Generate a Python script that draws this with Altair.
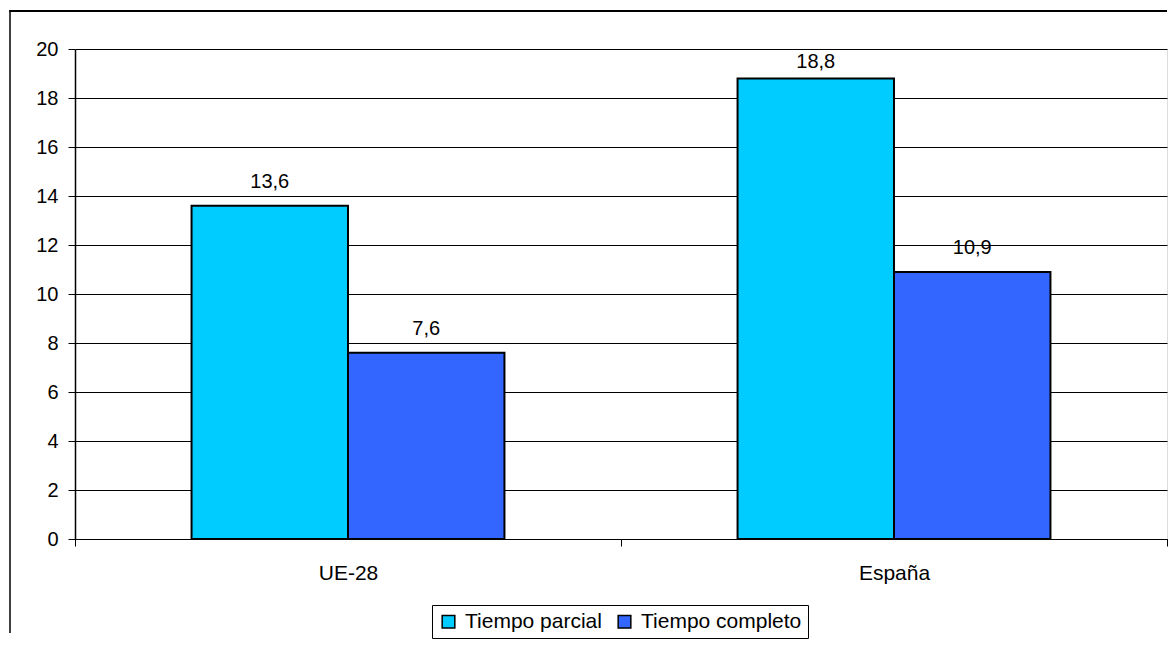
import altair as alt
import pandas as pd

categories = ["UE-28", "España"]
series = ["Tiempo parcial", "Tiempo completo"]
tiempo_parcial = [13.6, 18.8]
tiempo_completo = [7.6, 10.9]
colors = ["#00CCFF", "#3366FF"]
y_ticks = [0, 2, 4, 6, 8, 10, 12, 14, 16, 18, 20]

rows = []
for i, c in enumerate(categories):
    rows.append({"cat": c, "serie": series[0], "value": tiempo_parcial[i]})
    rows.append({"cat": c, "serie": series[1], "value": tiempo_completo[i]})
df = pd.DataFrame(rows)

W, H = 1092, 490
FONT = "Liberation Sans"

x_enc = alt.X("cat:N", sort=categories,
              scale=alt.Scale(paddingInner=0, paddingOuter=0),
              axis=alt.Axis(title=None, labelAngle=0, tickBand="extent", tickSize=7,
                            tickColor="black", domainColor="black", labelPadding=16,
                            labelFontSize=21, labelColor="black", grid=False,
                            labelFont=FONT))
xoff = alt.XOffset("serie:N", sort=series,
                   scale=alt.Scale(paddingOuter=0.745, paddingInner=0))
y_enc = alt.Y("value:Q",
              scale=alt.Scale(domain=[0, 20], nice=False),
              axis=alt.Axis(title=None, values=y_ticks, tickSize=7, tickColor="black",
                            domainColor="black", domainWidth=1.5, labelPadding=10,
                            labelFontSize=20, labelColor="black", gridColor="black",
                            gridOpacity=1, gridWidth=1, labelFont=FONT))
color_enc = alt.Color("serie:N", sort=series,
                      scale=alt.Scale(domain=series, range=colors),
                      legend=alt.Legend(title=None, orient="none", legendX=357, legendY=556,
                                        direction="horizontal", symbolType="square",
                                        symbolSize=160, symbolStrokeColor="black",
                                        symbolStrokeWidth=1.5, symbolOpacity=1,
                                        labelFontSize=21, labelFont=FONT, labelColor="black",
                                        labelOffset=6, columnPadding=12, labelLimit=400,
                                        strokeColor="black", fillColor="white", padding=6))

bars = alt.Chart(df).mark_bar(stroke="black", strokeWidth=2, opacity=1).encode(
    x=x_enc, xOffset=xoff, y=y_enc, color=color_enc
)

label_base = alt.Chart(df).transform_calculate(
    lab="replace(format(datum.value, '.1f'), '.', ',')"
)
label_enc = dict(
    x=alt.X("cat:N", sort=categories), xOffset=alt.XOffset("serie:N", sort=series),
    y="value:Q", text="lab:N",
)
labels = label_base.transform_filter("datum.value <= 18").mark_text(
    fontSize=20, font=FONT, color="black", baseline="alphabetic", dy=-18
).encode(**label_enc)
labels_top = label_base.transform_filter("datum.value > 18").mark_text(
    fontSize=20, font=FONT, color="black", baseline="alphabetic", dy=-10
).encode(**label_enc)

frame_df = pd.DataFrame({"k": [0]})
top_line = alt.Chart(frame_df).mark_rect(fill="black", opacity=1).encode(
    x=alt.value(-65.75), x2=alt.value(W), y=alt.value(-39), y2=alt.value(-37)
)
left_line = alt.Chart(frame_df).mark_rule(color="black", strokeWidth=1.5).encode(
    x=alt.value(-65), y=alt.value(-39), y2=alt.value(584)
)

chart = alt.layer(bars, labels, labels_top, top_line, left_line).properties(
    width=W, height=H,
    padding={"left": 1, "top": 1, "right": 0, "bottom": 0},
).configure_view(
    stroke="#808080", strokeWidth=1.5
).configure(font=FONT, background="white")

chart.save("out.html", embed_options={"renderer": "svg", "actions": False})
